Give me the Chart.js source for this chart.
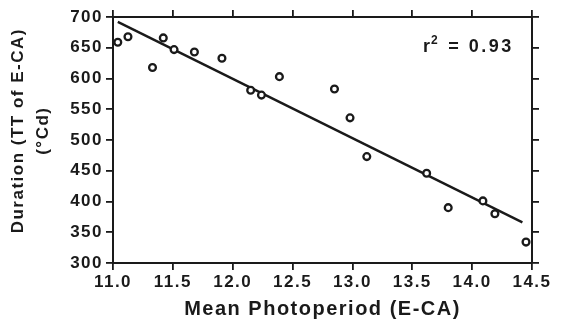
<!DOCTYPE html>
<html>
<head>
<meta charset="utf-8">
<script src="https://cdn.jsdelivr.net/npm/chart.js@4.4.1/dist/chart.umd.min.js"></script>
<style>
  html, body { margin: 0; padding: 0; background: #fff; }
  #wrap { width: 565px; height: 324px; position: relative; }
</style>
</head>
<body>
<div id="wrap"><canvas id="photo-chart"></canvas></div>
<script>
  // values
  const photoperiod = [11.04, 11.125, 11.33, 11.42, 11.51, 11.68, 11.91, 12.15, 12.24, 12.39,
                       12.85, 12.98, 13.12, 13.62, 13.80, 14.09, 14.19, 14.45];
  const duration = [659, 668, 618, 666, 647, 643, 633, 581, 573, 603,
                    583, 536, 473, 446, 390, 401, 380, 334];
  // regression line end points
  const fitX = [11.04, 14.42];
  const fitY = [692, 366];
  const xTicks = [11.0, 11.5, 12.0, 12.5, 13.0, 13.5, 14.0, 14.5];
  const yTicks = [300, 350, 400, 450, 500, 550, 600, 650, 700];
  const rSquared = "0.93";

  const ink = "#1a1a1a";
  const family = '"Liberation Sans", Arial, sans-serif';

  document.addEventListener("DOMContentLoaded", function () {
    const points = photoperiod.map((x, i) => ({ x: x, y: duration[i] }));
    const fit = fitX.map((x, i) => ({ x: x, y: fitY[i] }));

    // the scanned figure has wide letter spacing
    const spacing = {
      id: "spacing",
      beforeLayout(chart) { chart.ctx.letterSpacing = "1.5px"; },
      beforeDraw(chart) { chart.ctx.letterSpacing = "1.5px"; }
    };

    // r² label in the upper right corner
    const rLabel = {
      id: "rLabel",
      afterDraw(chart) {
        const ctx = chart.ctx;
        const area = chart.chartArea;
        let x = area.right - 109;
        const y = area.top + 35;
        ctx.save();
        ctx.letterSpacing = "2px";
        ctx.fillStyle = ink;
        ctx.textAlign = "left";
        ctx.textBaseline = "alphabetic";
        ctx.font = "bold 18px " + family;
        ctx.fillText("r", x, y);
        x += ctx.measureText("r").width - 1;
        ctx.font = "bold 12px " + family;
        ctx.fillText("2", x, y - 8);
        x += ctx.measureText("2").width + 1;
        ctx.font = "bold 18px " + family;
        ctx.letterSpacing = "2.5px";
        ctx.fillText(" = " + rSquared, x, y);
        ctx.restore();
      }
    };

    const tickMarks = { drawOnChartArea: false, drawTicks: true, tickLength: 7, color: ink, lineWidth: 1.8 };
    const frame = { display: true, color: ink, width: 2 };

    const ctx = document.getElementById("photo-chart").getContext("2d");
    new Chart(ctx, {
      type: "scatter",
      data: {
        datasets: [
          {
            data: points,
            pointStyle: "circle",
            pointRadius: 3.4,
            borderWidth: 2.3,
            borderColor: ink,
            backgroundColor: "#fff"
          },
          {
            data: fit,
            showLine: true,
            pointRadius: 0,
            borderColor: ink,
            borderWidth: 2.4,
            fill: false
          }
        ]
      },
      options: {
        responsive: true,
        maintainAspectRatio: false,
        animation: false,
        layout: { padding: 0 },
        plugins: { legend: { display: false }, tooltip: { enabled: false } },
        scales: {
          x: {
            type: "linear",
            position: "bottom",
            min: 11, max: 14.5,
            afterBuildTicks: (s) => { s.ticks = xTicks.map(v => ({ value: v })); },
            afterFit: (s) => { s.height = 61; },
            grid: tickMarks,
            border: frame,
            ticks: {
              padding: 2,
              color: ink,
              font: { family: family, size: 17, weight: "bold" },
              callback: (v) => Number(v).toFixed(1)
            },
            title: {
              display: true,
              text: "Mean Photoperiod (E-CA)",
              color: ink,
              padding: { top: 0, bottom: 3 },
              font: { family: family, size: 20, weight: "bold" }
            }
          },
          x2: {
            type: "linear",
            position: "top",
            min: 11, max: 14.5,
            afterBuildTicks: (s) => { s.ticks = xTicks.map(v => ({ value: v })); },
            afterFit: (s) => { s.height = 17; },
            grid: tickMarks,
            border: frame,
            ticks: { display: false }
          },
          y: {
            type: "linear",
            position: "left",
            min: 300, max: 700,
            afterBuildTicks: (s) => { s.ticks = yTicks.map(v => ({ value: v })); },
            afterFit: (s) => { s.width = 113; },
            grid: tickMarks,
            border: frame,
            ticks: {
              padding: 3,
              color: ink,
              font: { family: family, size: 17, weight: "bold" }
            },
            title: {
              display: true,
              text: ["   Duration (TT of E-CA)", "   (°Cd)"],
              color: ink,
              padding: { top: 6, bottom: 0 },
              font: { family: family, size: 17, weight: "bold", lineHeight: 1.47 }
            }
          },
          y2: {
            type: "linear",
            position: "right",
            min: 300, max: 700,
            afterBuildTicks: (s) => { s.ticks = yTicks.map(v => ({ value: v })); },
            afterFit: (s) => { s.width = 33; },
            grid: tickMarks,
            border: frame,
            ticks: { display: false }
          }
        }
      },
      plugins: [spacing, rLabel]
    });
  });
</script>
</body>
</html>
